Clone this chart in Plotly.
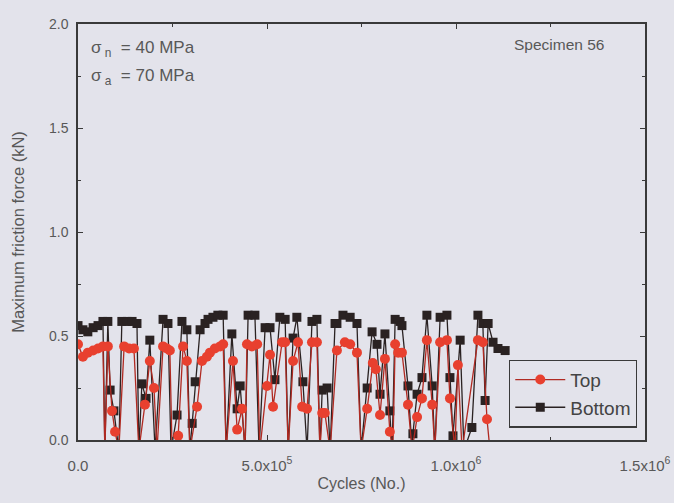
import plotly.graph_objects as go

# Bottom specimen (black squares): cycles (thousands) and max friction force (kN)
bottom_kcycles = [0, 13, 26, 40, 53, 66, 71, 79, 85, 95, 108, 116, 130, 143, 156, 161, 169, 180, 190, 204,
                  225, 238, 246, 262, 275, 288, 296, 302, 310, 323, 336, 344, 357, 370, 384, 392, 407, 421, 429, 442,
                  450, 468, 479, 495, 508, 521, 534, 548, 556, 569, 579, 595, 606, 619, 632, 640, 646, 659, 667, 680,
                  685, 701, 720, 738, 749, 765, 778, 791, 799, 812, 825, 831, 839, 852, 857, 873, 884, 886, 897, 910,
                  923, 937, 944, 958, 976, 984, 992, 1011, 1021, 1042, 1058, 1071, 1077, 1085, 1098, 1111, 1130]
bottom_force = [0.55, 0.53, 0.52, 0.54, 0.55, 0.57, -0.05, 0.57, 0.24, 0.14, -0.05, 0.57, 0.57, 0.57, 0.56, -0.05, 0.27, 0.20, 0.48, -0.05,
                0.58, 0.56, -0.05, 0.12, 0.57, 0.53, -0.05, 0.08, 0.28, 0.53, 0.56, 0.58, 0.59, 0.60, 0.60, -0.05, 0.51, 0.15, 0.26, -0.05,
                0.60, 0.60, -0.05, 0.54, 0.54, 0.29, 0.59, 0.58, -0.05, 0.49, 0.59, 0.28, -0.05, 0.57, 0.58, -0.05, 0.24, 0.25, -0.05, 0.56,
                0.56, 0.60, 0.59, 0.56, -0.05, 0.25, 0.52, 0.46, 0.22, 0.51, 0.14, -0.05, 0.58, 0.57, 0.55, 0.26, -0.05, 0.03, 0.22, 0.30,
                0.60, 0.26, -0.05, 0.59, 0.60, 0.30, 0.02, 0.48, -0.05, 0.06, 0.60, 0.56, 0.19, 0.56, 0.47, 0.44, 0.43]

# Top specimen (red circles)
top_kcycles = [0, 13, 26, 40, 53, 66, 71, 79, 90, 98, 108, 122, 135, 148, 161, 177, 190, 201, 209, 225,
               235, 243, 249, 265, 278, 288, 296, 315, 328, 341, 349, 362, 376, 384, 392, 410, 421, 434, 442, 447,
               460, 474, 481, 500, 508, 516, 540, 548, 556, 569, 582, 593, 606, 619, 632, 640, 646, 653, 667, 685,
               706, 720, 738, 749, 765, 780, 788, 799, 812, 825, 833, 839, 847, 857, 873, 884, 897, 910, 923, 937,
               944, 958, 976, 984, 997, 1005, 1016, 1058, 1071, 1082, 1090]
top_force = [0.46, 0.40, 0.42, 0.43, 0.44, 0.45, -0.05, 0.45, 0.14, 0.04, -0.05, 0.45, 0.44, 0.44, -0.05, 0.17, 0.38, 0.25, -0.05, 0.45,
             0.44, 0.43, -0.05, 0.02, 0.45, 0.38, -0.05, 0.16, 0.38, 0.40, 0.42, 0.44, 0.45, 0.46, -0.05, 0.38, 0.05, 0.15, -0.05, 0.46,
             0.45, 0.46, -0.05, 0.26, 0.41, 0.16, 0.47, 0.47, -0.05, 0.38, 0.47, 0.16, 0.15, 0.47, 0.47, -0.05, 0.13, 0.13, -0.05, 0.43,
             0.47, 0.46, 0.42, -0.05, 0.15, 0.37, 0.34, 0.12, 0.39, 0.04, -0.05, 0.46, 0.42, 0.42, 0.17, -0.05, 0.11, 0.20, 0.48, 0.17,
             -0.05, 0.47, 0.48, 0.20, -0.05, 0.36, -0.05, 0.48, 0.47, 0.10, -0.05]

x_tick_vals = [0, 500000, 1000000, 1500000]
x_tick_text = ["0.0", "5.0x10<sup>5</sup>", "1.0x10<sup>6</sup>", "1.5x10<sup>6</sup>"]
y_tick_vals = [0.0, 0.5, 1.0, 1.5, 2.0]
y_tick_text = ["0.0", "0.5", "1.0", "1.5", "2.0"]

BG = "#e3e3eb"
FONT = "Arial, Liberation Sans, sans-serif"
TXT = "#585858"

fig = go.Figure()
fig.add_trace(go.Scatter(
    x=[k * 1000 for k in bottom_kcycles], y=bottom_force, name="Bottom", mode="lines+markers",
    line=dict(color="#2a2222", width=1.3),
    marker=dict(symbol="square", size=9, color="#2a2222", line=dict(width=0)),
))
fig.add_trace(go.Scatter(
    x=[k * 1000 for k in top_kcycles], y=top_force, name="Top", mode="lines+markers",
    line=dict(color="#b02a22", width=1.3),
    marker=dict(symbol="circle", size=10, color="#e8402f", line=dict(width=0)),
))

axis_common = dict(
    showline=True, linecolor="#3a3a3a", linewidth=1.5, mirror="allticks",
    ticks="inside", ticklen=5, tickwidth=1.2, tickcolor="#3a3a3a",
    showgrid=False, zeroline=False, automargin=False,
)

fig.update_layout(
    width=674, height=503,
    paper_bgcolor=BG, plot_bgcolor=BG,
    margin=dict(l=78, r=29, t=24, b=63),
    font=dict(family=FONT, color=TXT),
    showlegend=True,
    legend=dict(
        x=0.986, y=0.03, xanchor="right", yanchor="bottom",
        bgcolor=BG, bordercolor="#3a3a3a", borderwidth=1.2,
        font=dict(family=FONT, size=19, color="#444444"),
        traceorder="reversed", itemwidth=50,
    ),
    xaxis=dict(
        range=[0, 1500000], tickvals=x_tick_vals, ticktext=x_tick_text,
        ticklabelstandoff=11, tickfont=dict(family=FONT, size=15, color=TXT),
        minor=dict(ticks="inside", ticklen=3, tickcolor="#3a3a3a", dtick=250000, tick0=0),
        title=dict(text="Cycles (No.)", font=dict(family=FONT, size=16, color=TXT), standoff=5),
        **axis_common,
    ),
    yaxis=dict(
        range=[0, 2.0], tickvals=y_tick_vals, ticktext=y_tick_text,
        ticklabelstandoff=5, tickfont=dict(family=FONT, size=14, color=TXT),
        minor=dict(ticks="inside", ticklen=3, tickcolor="#3a3a3a", dtick=0.25, tick0=0),
        title=dict(text="Maximum friction force (kN)", font=dict(family=FONT, size=16.5, color=TXT), standoff=20),
        **axis_common,
    ),
    annotations=[
        dict(x=0.02, y=0.972, xref="paper", yref="paper", xanchor="left", yanchor="top", showarrow=False,
             text="σ<sub> n</sub>&nbsp;&nbsp;= 40 MPa", font=dict(family=FONT, size=17, color=TXT)),
        dict(x=0.02, y=0.905, xref="paper", yref="paper", xanchor="left", yanchor="top", showarrow=False,
             text="σ<sub> a</sub>&nbsp;&nbsp;= 70 MPa", font=dict(family=FONT, size=17, color=TXT)),
        dict(x=0.931, y=0.975, xref="paper", yref="paper", xanchor="right", yanchor="top", showarrow=False,
             text="Specimen 56", font=dict(family=FONT, size=15.5, color=TXT)),
    ],
)

fig.write_html(
    "out.html",
    config={"displayModeBar": False},
    post_script="document.body.style.margin='0';document.body.style.background='%s';"
                "document.documentElement.style.overflow='hidden';" % BG,
)
